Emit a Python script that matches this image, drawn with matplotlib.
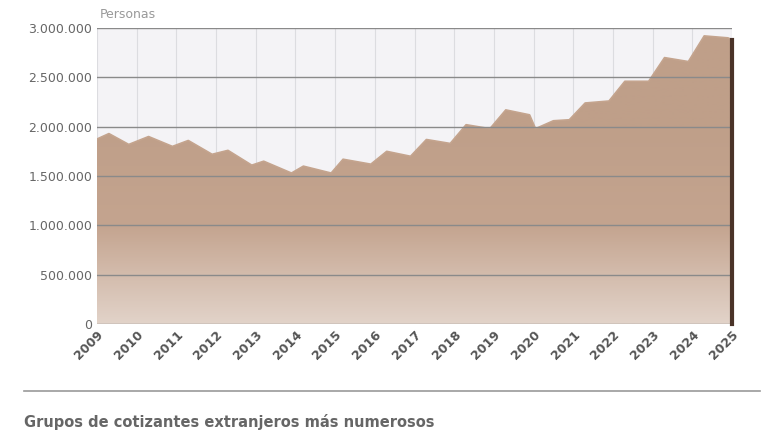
import matplotlib.pyplot as plt
import numpy as np
from matplotlib.ticker import FuncFormatter
from matplotlib.colors import LinearSegmentedColormap

years = [2009.0, 2009.3, 2009.8, 2010.3, 2010.9, 2011.3, 2011.9, 2012.3, 2012.9, 2013.2,
         2013.9, 2014.2, 2014.9, 2015.2, 2015.9, 2016.3, 2016.9, 2017.3, 2017.9, 2018.3,
         2018.9, 2019.3, 2019.9, 2020.05, 2020.5, 2020.9, 2021.3, 2021.9, 2022.3, 2022.9,
         2023.3, 2023.9, 2024.3, 2024.9, 2025.0]
personas = [1.875, 1.93, 1.82, 1.90, 1.80, 1.86, 1.72, 1.76, 1.61, 1.65,
            1.53, 1.60, 1.53, 1.67, 1.62, 1.75, 1.70, 1.87, 1.83, 2.02,
            1.98, 2.17, 2.12, 1.98, 2.06, 2.07, 2.24, 2.26, 2.46, 2.46,
            2.70, 2.66, 2.92, 2.90, 2.88]
personas = [v * 1e6 for v in personas]
year_ticks = list(range(2009, 2026))
y_ticks = [0, 500000, 1000000, 1500000, 2000000, 2500000, 3000000]

fig = plt.figure(figsize=(7.8, 4.4), dpi=100)
ax = fig.add_axes([97/780, 1 - 324/440, 635/780, 296/440])
ax.set_facecolor("#f4f3f6")
ax.set_xlim(2009, 2025)
ax.set_ylim(0, 3e6)

# gradient fill clipped to the area under the curve
poly = ax.fill_between(years, personas, 0, color="none")
grad = np.linspace(0, 1, 256).reshape(-1, 1)
cmap = LinearSegmentedColormap.from_list("g", ["#e2d3c9", "#c4a48f", "#bf9f89", "#bf9f89"])
im = ax.imshow(grad, extent=[2009, 2025, 0, 3e6], origin="lower", aspect="auto", cmap=cmap, zorder=1)
im.set_clip_path(poly.get_paths()[0], transform=ax.transData)
ax.plot(years, personas, color="#c4a48e", lw=1.2, zorder=2)
ax.plot([2025, 2025], [0, personas[-1]], color="#4a3328", lw=3, zorder=3, clip_on=False)

for yr in year_ticks:
    ax.axvline(yr, color="#dcdce0", lw=0.8, zorder=0)
for t in y_ticks:
    ax.axhline(t, color="#8a8a8a", lw=1, zorder=2.5)

ax.set_xticks(year_ticks)
ax.set_xticklabels([str(y) for y in year_ticks], rotation=45, ha="right",
                   rotation_mode="anchor", fontsize=9, fontweight="bold", color="#555555")
ax.set_yticks(y_ticks)
ax.yaxis.set_major_formatter(FuncFormatter(lambda v, p: f"{int(v):,}".replace(",", ".")))
ax.tick_params(axis="y", labelsize=9, colors="#666666", length=0)
ax.tick_params(axis="x", length=0, pad=3)
for s in ax.spines.values():
    s.set_visible(False)

fig.text(100/780, 1 - 14/440, "Personas", fontsize=9, color="#999999", va="center")
fig.add_artist(plt.Line2D([24/780, 760/780], [1 - 391/440] * 2, color="#999999", lw=1.2))
fig.text(24/780, 1 - 422/440, "Grupos de cotizantes extranjeros más numerosos",
         fontsize=10.5, fontweight="bold", color="#666666", va="center")
fig.savefig("out.png", dpi=100)
